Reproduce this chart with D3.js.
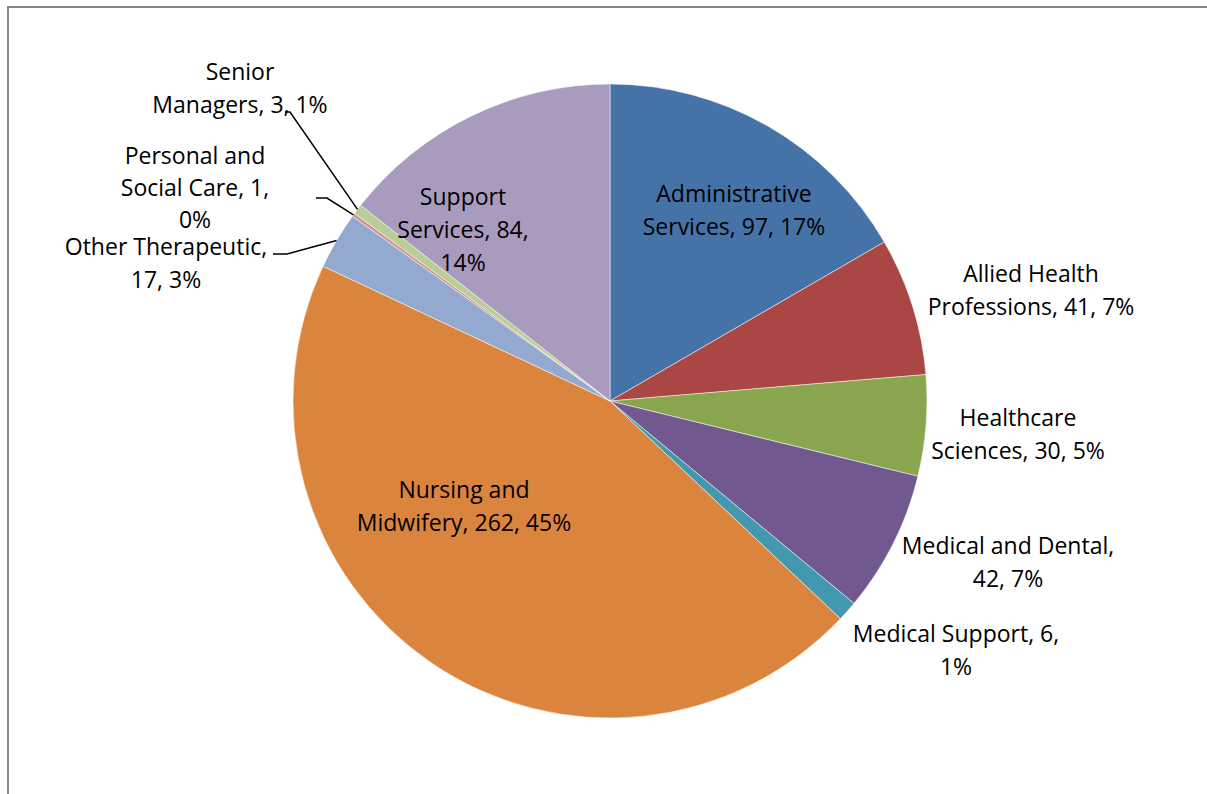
<!DOCTYPE html>
<html>
<head>
  <meta charset="UTF-8">
  <style>
    html, body { margin: 0; padding: 0; background: white; overflow: hidden; }
    svg { display: block; }
    .lbl { font-family: "Open Sans", sans-serif; font-size: 23px; fill: black; }
  </style>
</head>
<body>
<svg></svg>
<script src="https://d3js.org/d3.v7.min.js"></script>
<script>

// data
let categories = ["Administrative Services", "Allied Health Professions", "Healthcare Sciences",
  "Medical and Dental", "Medical Support", "Nursing and Midwifery", "Other Therapeutic",
  "Personal and Social Care", "Senior Managers", "Support Services"];
let values = [97, 41, 30, 42, 6, 262, 17, 1, 3, 84];
let colors = ["#4572A7", "#AA4643", "#89A54E", "#71588F", "#4198AF", "#DB843D",
  "#93A9CF", "#D19392", "#B9CD96", "#A99BBD"];

// label text lines as Excel wrapped them
let labelLines = [
  ["Administrative", "Services, 97, 17%"],
  ["Allied Health", "Professions, 41, 7%"],
  ["Healthcare", "Sciences, 30, 5%"],
  ["Medical and Dental,", "42, 7%"],
  ["Medical Support, 6,", "1%"],
  ["Nursing and", "Midwifery, 262, 45%"],
  ["Other Therapeutic,", "17, 3%"],
  ["Personal and", "Social Care, 1,", "0%"],
  ["Senior", "Managers, 3, 1%"],
  ["Support", "Services, 84,", "14%"]
];

// layout: centre of first label line, and leader line start (null = no leader)
let labelAt = [[734, 194], [1031, 274], [1018, 418], [1008, 546], [956, 634],
  [464, 490], [166, 247], [195, 156], [240, 72], [463, 197]];
let lineGap = [33, 33, 33, 33, 33, 33, 33, 32, 33, 33];
let leaderFrom = [null, null, null, null, null, null,
  [[273, 254], [287, 254]], [[316, 198], [327, 198]], [[285, 112], [290, 112]], null];

let width = 1207, height = 794;
let cx = 610, cy = 401, radius = 317;

let svg = d3.select("svg").attr("width", width).attr("height", height);

// chart frame
svg.append("rect")
    .attr("x", 8).attr("y", 7)
    .attr("width", width + 50).attr("height", height + 50)
    .attr("fill", "white")
    .attr("stroke", "#868686")
    .attr("stroke-width", 2);

let pie = d3.pie().sort(null).value(d => d);
let arcs = pie(values);
let arc = d3.arc().innerRadius(0).outerRadius(radius);

let g = svg.append("g").attr("transform", `translate(${cx},${cy})`);

g.selectAll("path")
  .data(arcs)
  .enter()
  .append("path")
  .attr("d", arc)
  .attr("fill", (d, i) => colors[i])
  .attr("stroke", "white")
  .attr("stroke-width", 0.5);

// leader lines to small slices
arcs.forEach((d, i) => {
  if (!leaderFrom[i]) return;
  let a = (d.startAngle + d.endAngle) / 2;
  let end = [cx + radius * Math.sin(a), cy - radius * Math.cos(a)];
  let pts = leaderFrom[i].concat([end]);
  svg.append("path")
    .attr("d", d3.line()(pts))
    .attr("fill", "none")
    .attr("stroke", "black")
    .attr("stroke-width", 1.5);
});

// labels
labelLines.forEach((lines, i) => {
  let t = svg.append("text")
    .attr("class", "lbl")
    .attr("text-anchor", "middle");
  lines.forEach((s, j) => {
    t.append("tspan")
      .attr("x", labelAt[i][0])
      .attr("y", labelAt[i][1] + j * lineGap[i])
      .attr("dy", "0.35em")
      .text(s);
  });
});

</script>
</body>
</html>
